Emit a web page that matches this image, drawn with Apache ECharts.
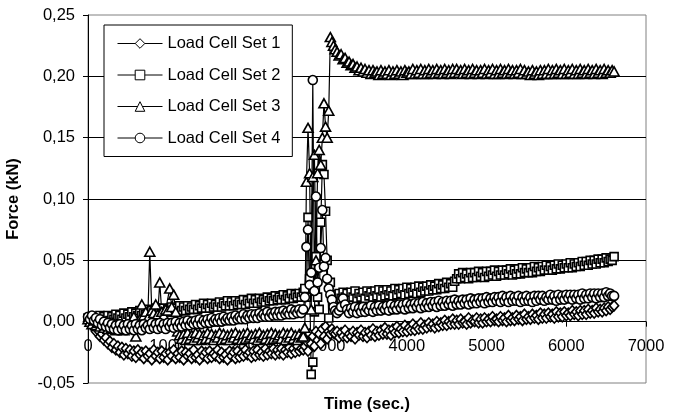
<!DOCTYPE html>
<html>
<head>
<meta charset="utf-8">
<script src="https://cdn.jsdelivr.net/npm/echarts@6/dist/echarts.min.js"></script>
<style>
  html, body { margin: 0; padding: 0; background: #fff; }
  #container { width: 679px; height: 419px; }
</style>
</head>
<body>
<div id="container"></div>
<script>
// Tiempos de muestreo (s)
var times = [
    0, 25, 50, 75, 100, 125, 150, 175, 200, 225, 250, 275,
    300, 325, 350, 375, 400, 425, 450, 475, 500, 525, 550, 575,
    600, 625, 650, 675, 700, 725, 750, 775, 800, 825, 850, 875,
    900, 925, 950, 975, 1000, 1025, 1050, 1075, 1100, 1125, 1150, 1175,
    1200, 1225, 1250, 1275, 1300, 1325, 1350, 1375, 1400, 1425, 1450, 1475,
    1500, 1525, 1550, 1575, 1600, 1625, 1650, 1675, 1700, 1725, 1750, 1775,
    1800, 1825, 1850, 1875, 1900, 1925, 1950, 1975, 2000, 2025, 2050, 2075,
    2100, 2125, 2150, 2175, 2200, 2225, 2250, 2275, 2300, 2325, 2350, 2375,
    2400, 2425, 2450, 2475, 2500, 2525, 2550, 2575, 2600, 2625, 2650, 2675,
    2700,
    2720, 2740, 2760, 2780, 2800, 2820, 2840, 2860, 2880, 2900,
    2920, 2940, 2960, 2980, 3000, 3020, 3040, 3060, 3080, 3100,
    3125, 3150, 3175, 3200, 3225, 3250, 3275, 3300, 3325, 3350, 3375, 3400,
    3425, 3450, 3475, 3500, 3525, 3550, 3575, 3600, 3625, 3650, 3675, 3700,
    3725, 3750, 3775, 3800, 3825, 3850, 3875, 3900, 3925, 3950, 3975, 4000,
    4025, 4050, 4075, 4100, 4125, 4150, 4175, 4200, 4225, 4250, 4275, 4300,
    4325, 4350, 4375, 4400, 4425, 4450, 4475, 4500, 4525, 4550, 4575, 4600,
    4625, 4650, 4675, 4700, 4725, 4750, 4775, 4800, 4825, 4850, 4875, 4900,
    4925, 4950, 4975, 5000, 5025, 5050, 5075, 5100, 5125, 5150, 5175, 5200,
    5225, 5250, 5275, 5300, 5325, 5350, 5375, 5400, 5425, 5450, 5475, 5500,
    5525, 5550, 5575, 5600, 5625, 5650, 5675, 5700, 5725, 5750, 5775, 5800,
    5825, 5850, 5875, 5900, 5925, 5950, 5975, 6000, 6025, 6050, 6075, 6100,
    6125, 6150, 6175, 6200, 6225, 6250, 6275, 6300, 6325, 6350, 6375, 6400,
    6425, 6450, 6475, 6500, 6525, 6550, 6575, 6600
];

var set1N = [
    0, -1, -3, -5, -8, -7, -12, -10, -15, -13, -18, -16,
    -21, -18, -23, -20, -25, -21, -27, -22, -26, -23, -28, -24,
    -29, -23, -27, -25, -30, -24, -28, -26, -31, -23, -28, -25,
    -30, -24, -29, -26, -31, -25, -28, -23, -30, -26, -29, -24,
    -31, -25, -28, -26, -30, -23, -29, -27, -31, -24, -28, -25,
    -30, -24, -29, -26, -28, -23, -30, -25, -29, -27, -31, -24,
    -28, -25, -30, -24, -29, -26, -28, -23, -27, -25, -29, -24,
    -28, -23, -27, -25, -28, -22, -27, -24, -26, -22, -27, -23,
    -26, -22, -27, -23, -25, -21, -26, -22, -25, -20, -24, -22,
    -23,
    -20, -16, -24, -10, -18, -12, -20, -8, -15, -10,
    -18, -6, -12, -4, -14, -8, -10, -6, -9, -10,
    -8, -13, -9, -12, -7, -13, -10, -12, -8, -14, -9, -11,
    -7, -12, -9, -13, -8, -11, -6, -12, -8, -11, -7, -10,
    -5, -10, -7, -11, -6, -9, -4, -9, -6, -8, -3, -8,
    -5, -7, -2, -7, -4, -6, -1, -6, -3, -5, -1, -4,
    -2, -5, 0, -4, -1, -3, 1, -3, 0, -2, 2, -2,
    1, -2, 2, -1, 0, -2, 3, -1, 1, 0, 3, -1,
    2, -1, 3, 0, 2, 0, 4, 1, 2, 0, 4, 1,
    3, 0, 5, 1, 3, 1, 5, 2, 4, 1, 6, 2,
    4, 2, 6, 3, 5, 2, 7, 3, 6, 3, 7, 4,
    6, 3, 8, 4, 7, 4, 8, 5, 7, 5, 9, 6,
    8, 5, 9, 6, 9, 6, 10, 7, 9, 7, 11, 8,
    10, 8, 11, 9, 12, 10, 12, 13
];

var set2N = [
    3, 1, 4, 0, 3, 1, 5, 0, 4, 2, 5, 1,
    4, 2, 6, 3, 5, 2, 7, 3, 6, 4, 8, 4,
    7, 5, 9, 5, 8, 6, 10, 6, 9, 7, 11, 7,
    10, 7, 11, 8, 10, 8, 12, 9, 11, 8, 13, 9,
    12, 9, 13, 10, 12, 10, 14, 10, 13, 11, 15, 11,
    14, 11, 15, 12, 14, 12, 16, 12, 15, 13, 17, 13,
    16, 13, 17, 14, 16, 14, 18, 14, 17, 15, 19, 15,
    18, 15, 19, 16, 18, 16, 20, 17, 19, 17, 21, 18,
    20, 18, 22, 18, 21, 19, 23, 19, 22, 20, 23, 20,
    24,
    27, 20, 85, 35, -43, -33, 8, 53, 20, 10,
    81, 128, 120, 90, 50, 3, 32, 20, 22, 20,
    18, 23, 19, 24, 20, 23, 18, 24, 20, 25, 19, 23,
    20, 24, 19, 25, 21, 24, 20, 25, 21, 26, 20, 25,
    21, 26, 22, 25, 21, 27, 22, 26, 23, 27, 22, 28,
    23, 27, 24, 28, 23, 29, 24, 28, 25, 29, 25, 30,
    26, 29, 26, 31, 27, 30, 27, 32, 28, 31, 28, 33,
    35, 39, 35, 40, 36, 39, 35, 40, 36, 40, 36, 41,
    37, 40, 36, 41, 37, 41, 38, 42, 37, 41, 38, 42,
    38, 42, 39, 43, 38, 42, 39, 43, 39, 44, 40, 43,
    40, 44, 40, 45, 41, 44, 41, 45, 42, 46, 42, 45,
    42, 46, 43, 47, 43, 46, 44, 47, 44, 48, 44, 47,
    45, 48, 45, 49, 46, 49, 46, 50, 47, 50, 47, 51,
    48, 51, 48, 52, 49, 51, 50, 53
];

var set3N = [
    2, 0, -2, 1, -3, -1, -4, 0, -5, -2, -6, -1,
    -5, -2, -7, -3, -6, -2, -7, -3, -5, -1, -6, 4,
    -12, -3, 2, 14, 5, 8, 3, 57, 9, 7, 14, 6,
    32, 8, 5, 10, 9, 27, 12, 22, 8, -8, -11, -14,
    -10, -15, -9, -14, -11, -15, -9, -13, -10, -15, -11, -14,
    -9, -14, -10, -15, -11, -13, -9, -15, -10, -14, -11, -15,
    -10, -13, -9, -14, -11, -15, -10, -14, -9, -13, -11, -14,
    -10, -15, -9, -13, -11, -14, -10, -15, -9, -14, -10, -13,
    -11, -14, -9, -15, -10, -13, -9, -14, -11, -15, -10, -13,
    -12,
    -5, 114, 158, 121, 10, 118, 136, 50, 121, 140,
    128, 150, 178, 159, 150, 172, 232, 228, 225, 222,
    220, 217, 218, 214, 215, 211, 212, 209, 210, 207, 208, 205,
    207, 204, 206, 203, 205, 202, 205, 203, 204, 201, 205, 202,
    204, 202, 205, 201, 204, 202, 205, 202, 204, 201, 205, 203,
    204, 202, 206, 202, 205, 203, 206, 202, 205, 202, 206, 203,
    205, 202, 206, 203, 205, 202, 206, 203, 205, 202, 206, 203,
    206, 203, 205, 202, 206, 203, 205, 202, 206, 203, 205, 202,
    205, 203, 206, 202, 205, 203, 206, 202, 205, 202, 206, 203,
    205, 202, 206, 203, 205, 202, 205, 203, 206, 202, 205, 202,
    204, 201, 205, 202, 204, 201, 205, 202, 205, 202, 206, 202,
    205, 202, 206, 203, 205, 202, 206, 202, 205, 203, 206, 202,
    205, 202, 206, 203, 205, 202, 206, 203, 205, 202, 206, 203,
    205, 202, 206, 203, 205, 203, 205, 204
];

var set4N = [
    4, 2, 5, 1, 3, -1, 2, -3, 0, -4, -1, -5,
    -2, -6, -3, -7, -2, -6, -3, -7, -2, -6, -3, -7,
    -2, -6, -3, -7, -2, -5, -3, -6, -1, -5, -2, -6,
    -1, -5, -2, -6, -1, -4, -1, -5, 0, -4, -1, -4,
    0, -3, 1, -3, 0, -2, 1, -2, 2, -2, 1, -1,
    2, -1, 3, 0, 2, 0, 3, 0, 4, 1, 3, 1,
    4, 1, 5, 2, 4, 2, 6, 2, 5, 3, 6, 3,
    6, 3, 7, 4, 6, 4, 8, 4, 7, 5, 8, 5,
    8, 5, 9, 6, 8, 6, 10, 6, 9, 7, 10, 7,
    10,
    20, 61, 75, 30, 40, 197, 25, 102, 32, 44,
    60, 91, 45, 52, 35, 27, 22, 18, 12, 9,
    7, 9, 12, 19, 14, 10, 7, 11, 8, 12, 7, 11,
    8, 12, 8, 11, 9, 13, 8, 12, 9, 13, 9, 12,
    10, 13, 9, 14, 10, 13, 10, 14, 11, 14, 10, 15,
    11, 14, 11, 15, 12, 15, 11, 16, 12, 15, 12, 16,
    13, 16, 12, 17, 13, 16, 13, 17, 14, 17, 13, 18,
    14, 17, 14, 18, 15, 18, 14, 19, 15, 18, 15, 19,
    16, 19, 15, 20, 16, 19, 16, 20, 17, 20, 16, 21,
    17, 20, 16, 21, 17, 20, 17, 21, 16, 20, 17, 21,
    17, 20, 16, 21, 17, 21, 18, 21, 17, 20, 18, 22,
    18, 21, 17, 22, 18, 21, 18, 22, 19, 22, 18, 22,
    19, 22, 18, 23, 19, 22, 19, 23, 20, 23, 19, 23,
    20, 23, 20, 24, 21, 23, 21, 21
];

var seriesNames = ['Load Cell Set 1', 'Load Cell Set 2', 'Load Cell Set 3', 'Load Cell Set 4'];
var xTicks = [0, 1000, 2000, 3000, 4000, 5000, 6000, 7000];
var yTicks = [-0.05, 0, 0.05, 0.10, 0.15, 0.20, 0.25];

var FONT = '"Liberation Sans", Arial, sans-serif';
var GRID = { left: 88, right: 33, top: 15, bottom: 36 };

function pairs(valsN) {
    return times.map(function (t, i) { return [t, valsN[i] / 1000]; });
}

function makeSeries(name, valsN, symbol, size) {
    return {
        name: name,
        type: 'line',
        data: pairs(valsN),
        symbol: symbol,
        symbolSize: size,
        showAllSymbol: true,
        lineStyle: { color: '#000', width: 1.2 },
        itemStyle: { color: '#fff', borderColor: '#000', borderWidth: 1.6 },
        emphasis: { disabled: true }
    };
}

// el eje X cruza en y = 0: desplazarlo desde el borde inferior
var plotH = 419 - GRID.top - GRID.bottom;
var yMin = yTicks[0], yMax = yTicks[yTicks.length - 1];
var zeroOffset = -plotH * (0 - yMin) / (yMax - yMin);

var myChart = echarts.init(document.getElementById('container'));

var option = {
    animation: false,
    backgroundColor: '#fff',
    textStyle: { fontFamily: FONT, color: '#000' },
    grid: {
        left: GRID.left, right: GRID.right, top: GRID.top, bottom: GRID.bottom,
        outerBoundsMode: 'none',
        show: true,
        backgroundColor: '#fff',
        borderColor: '#808080',
        borderWidth: 1
    },
    legend: {
        orient: 'vertical',
        left: 104,
        top: 25,
        padding: [10, 12, 10, 13],
        itemGap: 14.5,
        itemWidth: 45,
        itemHeight: 12,
        backgroundColor: '#fff',
        borderColor: '#000',
        borderWidth: 1,
        borderRadius: 0,
        itemStyle: { color: '#fff', borderColor: '#000', borderWidth: 1 },
        lineStyle: { color: '#000', width: 1 },
        textStyle: { fontFamily: FONT, fontSize: 16.5, color: '#000' },
        data: seriesNames
    },
    xAxis: {
        type: 'value',
        min: xTicks[0],
        max: xTicks[xTicks.length - 1],
        interval: 1000,
        offset: zeroOffset,
        name: 'Time (sec.)',
        nameLocation: 'middle',
        nameGap: 74,
        nameTextStyle: { fontFamily: FONT, fontSize: 16.5, fontWeight: 'bold', color: '#000' },
        axisLine: { show: true, onZero: false, lineStyle: { color: '#000', width: 1 } },
        axisTick: { show: true, length: 5, lineStyle: { color: '#000' } },
        axisLabel: {
            fontFamily: FONT, fontSize: 16.5, color: '#000', margin: 16,
            formatter: function (v) { return String(v); }
        },
        splitLine: { show: false }
    },
    yAxis: {
        type: 'value',
        min: yMin,
        max: yMax,
        interval: 0.05,
        name: 'Force (kN)',
        nameLocation: 'middle',
        nameGap: 66,
        nameTextStyle: { fontFamily: FONT, fontSize: 16.5, fontWeight: 'bold', color: '#000' },
        axisLine: { show: true, onZero: false, lineStyle: { color: '#000', width: 1 } },
        axisTick: { show: true, length: 5, lineStyle: { color: '#000' } },
        axisLabel: {
            fontFamily: FONT, fontSize: 16.5, color: '#000', margin: 13,
            formatter: function (v) {
                if (Math.abs(v) < 1e-9) v = 0;
                return v.toFixed(2).replace('.', ',');
            }
        },
        splitLine: { show: true, showMinLine: false, showMaxLine: false, lineStyle: { color: '#000', width: 1 } }
    },
    series: [
        makeSeries(seriesNames[0], set1N, 'diamond', [9, 10]),
        makeSeries(seriesNames[1], set2N, 'rect', 8),
        makeSeries(seriesNames[2], set3N, 'triangle', [10, 9]),
        makeSeries(seriesNames[3], set4N, 'circle', 9)
    ]
};

myChart.setOption(option);
window.addEventListener('resize', myChart.resize);
</script>
</body>
</html>
